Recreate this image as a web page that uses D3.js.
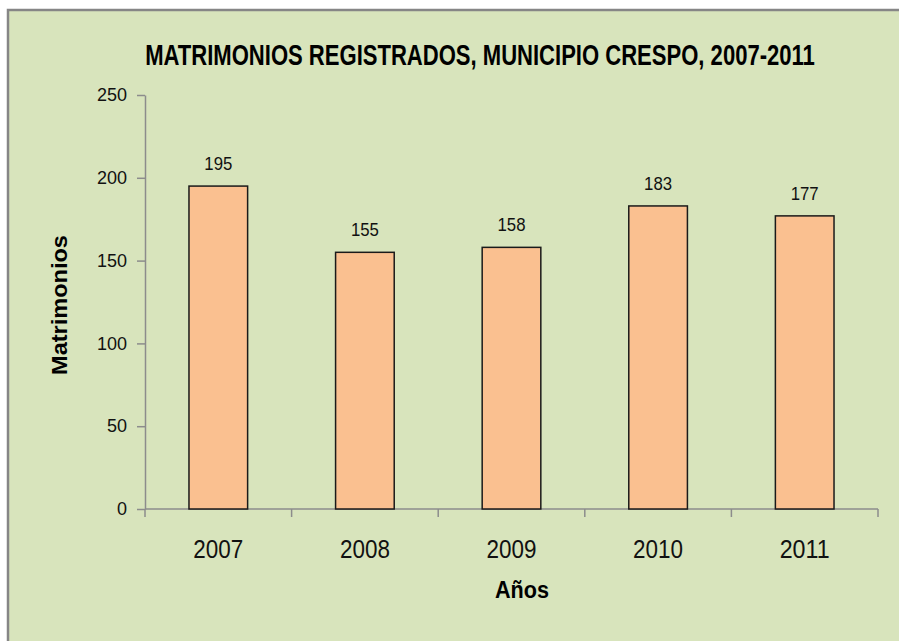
<!DOCTYPE html>
<html>
<head>
<meta charset="utf-8">
<script src="https://cdn.jsdelivr.net/npm/d3@7"></script>
<style>
  html, body { margin: 0; padding: 0; background: #fff; }
  svg { display: block; }
  .axis path, .axis line { stroke: #8c8c8c; stroke-width: 1.5; }
  .axis text { fill: #111; font-family: "Liberation Sans", Arial, sans-serif; }
</style>
</head>
<body>
<svg id="chart" width="899" height="641"></svg>
<script>
var years = ["2007", "2008", "2009", "2010", "2011"];
var marriages = [195, 155, 158, 183, 177];
var yTicks = [0, 50, 100, 150, 200, 250];

var title = "MATRIMONIOS REGISTRADOS, MUNICIPIO CRESPO, 2007-2011";
var yLabel = "Matrimonios";
var xLabel = "Años";

var width = 899, height = 641;
var margin = {top: 95, right: 21, bottom: 132, left: 145};
var plotW = width - margin.left - margin.right;
var plotH = height - margin.top - margin.bottom;
var font = "'Liberation Sans', Arial, sans-serif";

var svg = d3.select("#chart");

// squeeze a text horizontally so it looks like a narrow face
function narrow(parent, tx, ty, rot, txt, size, w) {
  var outer = parent.append("g").attr("transform", "translate(" + tx + "," + ty + ") rotate(" + rot + ")");
  var inner = outer.append("g");
  var t = inner.append("text")
    .attr("text-anchor", "middle")
    .style("font-family", font)
    .style("font-weight", "bold")
    .style("font-size", size + "px")
    .attr("fill", "#000")
    .text(txt);
  var len = t.node().getComputedTextLength();
  inner.attr("transform", "scale(" + (w / len) + ",1)");
  return t;
}

// frame (only top and left edges show)
svg.append("rect")
  .attr("x", 8).attr("y", 10)
  .attr("width", width + 10).attr("height", height + 10)
  .attr("fill", "#d8e4bc")
  .attr("stroke", "#868686")
  .attr("stroke-width", 2.5);

var g = svg.append("g").attr("transform", "translate(" + margin.left + "," + margin.top + ")");

var x = d3.scaleBand().domain(years).range([0, plotW]).paddingInner(0.6).paddingOuter(0.3);
var xb = d3.scaleBand().domain(years).range([0, plotW]);
var y = d3.scaleLinear().domain([0, 250]).range([plotH, 0]);

// x axis, ticks sit between the categories
var xAxis = g.append("g")
  .attr("class", "axis")
  .attr("transform", "translate(0," + plotH + ")");
xAxis.append("line").attr("x1", 0).attr("x2", plotW).attr("y1", 0).attr("y2", 0);
xAxis.selectAll(".sep")
  .data(years.concat(["end"]))
  .enter().append("line")
  .attr("class", "sep")
  .attr("x1", function(d, i) { return i * xb.bandwidth(); })
  .attr("x2", function(d, i) { return i * xb.bandwidth(); })
  .attr("y1", 0).attr("y2", 8);
xAxis.selectAll(".lbl")
  .data(years)
  .enter().append("text")
  .attr("class", "lbl")
  .attr("x", function(d) { return xb(d) + xb.bandwidth() / 2; })
  .attr("y", 49)
  .attr("text-anchor", "middle")
  .attr("textLength", 50)
  .attr("lengthAdjust", "spacingAndGlyphs")
  .style("font-size", "25px")
  .text(function(d) { return d; });

// y axis
g.append("g")
  .attr("class", "axis")
  .call(d3.axisLeft(y).tickValues(yTicks).tickSize(8).tickPadding(10).tickSizeOuter(0))
  .call(function(a) { a.selectAll("text").style("font-size", "18px"); });

// bars
g.selectAll(".bar")
  .data(marriages)
  .enter().append("rect")
  .attr("class", "bar")
  .attr("x", function(d, i) { return x(years[i]); })
  .attr("y", function(d) { return y(d); })
  .attr("width", x.bandwidth())
  .attr("height", function(d) { return plotH - y(d); })
  .attr("fill", "#fac090")
  .attr("stroke", "#1a1a1a")
  .attr("stroke-width", 1.5);

// value labels
g.selectAll(".val")
  .data(marriages)
  .enter().append("text")
  .attr("class", "val")
  .attr("x", function(d, i) { return x(years[i]) + x.bandwidth() / 2; })
  .attr("y", function(d) { return y(d) - 16; })
  .attr("text-anchor", "middle")
  .attr("textLength", 28)
  .attr("lengthAdjust", "spacingAndGlyphs")
  .style("font-family", font)
  .style("font-size", "18px")
  .attr("fill", "#111")
  .text(function(d) { return d; });

// titles
narrow(svg, 480, 65, 0, title, 29, 670);
narrow(svg, 67, 305, -90, yLabel, 22, 140);
narrow(svg, 522, 598, 0, xLabel, 24, 54);
</script>
</body>
</html>
